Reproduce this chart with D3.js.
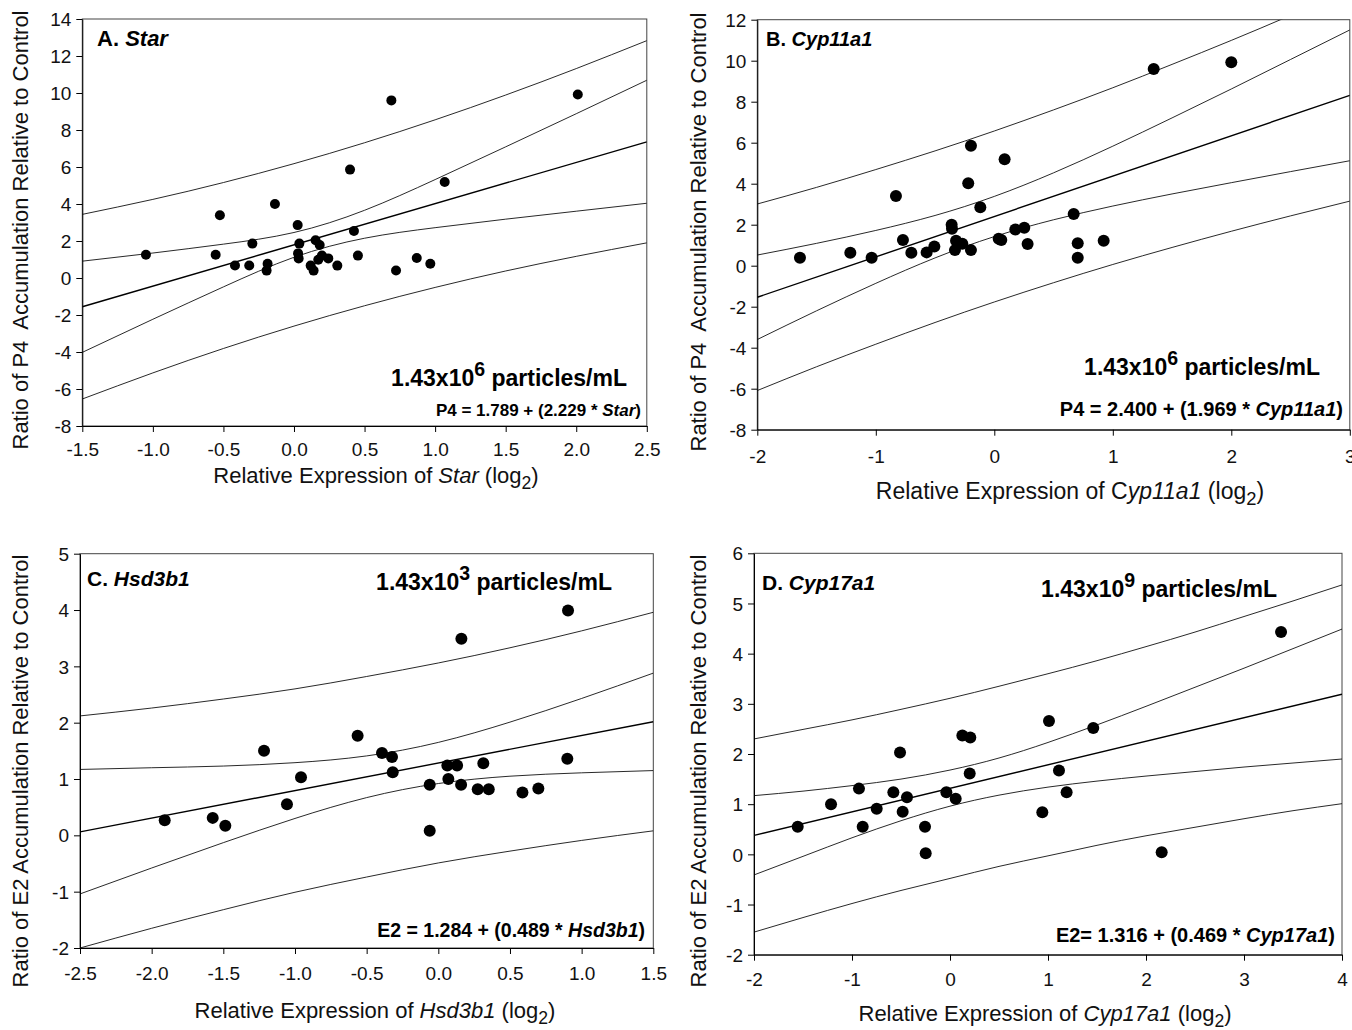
<!DOCTYPE html>
<html>
<head>
<meta charset="utf-8">
<script src="https://cdn.jsdelivr.net/npm/d3@7"></script>
<style>
body { margin: 0; background: #fff; }
svg { display: block; font-family: "Liberation Sans", Arial, sans-serif; }
</style>
</head>
<body>
<svg id="fig" width="1352" height="1030"></svg>
<script>
// ---- A. Star ----
var starX = [-1.049, -0.555, -0.525, -0.418, -0.317, -0.295, -0.187, -0.194, -0.135, 0.026, 0.038, 0.029, 0.033, 0.118, 0.139, 0.153, 0.182, 0.172, 0.198, 0.243, 0.307, 0.397, 0.425, 0.453, 0.690, 0.723, 0.870, 0.966, 1.068, 2.011];
var starY = [1.26, 1.26, 3.39, 0.68, 0.68, 1.86, 0.77, 0.40, 4.00, 2.86, 1.86, 1.33, 1.06, 0.67, 0.40, 2.04, 1.78, 0.99, 1.21, 1.06, 0.67, 5.86, 2.54, 1.21, 9.60, 0.41, 1.08, 0.77, 5.19, 9.92];
var starBandX = [-1.5, -1.0, -0.5, 0, 0.5, 1.0, 1.5, 2.0, 2.5];
var starConfHi = [0.91, 1.35, 1.83, 2.46, 3.66, 5.32, 7.09, 8.88, 10.69];
var starConfLo = [-4.02, -2.23, -0.48, 1.12, 2.15, 2.72, 3.18, 3.61, 4.04];
var starPredHi = [3.44, 4.25, 5.16, 6.18, 7.31, 8.55, 9.89, 11.32, 12.83];
var starPredLo = [-6.54, -5.13, -3.81, -2.60, -1.50, -0.51, 0.38, 1.17, 1.90];
var starFit = [1.789, 2.229];
var starXTicks = [-1.5, -1.0, -0.5, 0, 0.5, 1.0, 1.5, 2.0, 2.5];
var starYTicks = [-8, -6, -4, -2, 0, 2, 4, 6, 8, 10, 12, 14];

// ---- B. Cyp11a1 ----
var cyp11X = [-1.640, -1.215, -1.035, -0.830, -0.771, -0.700, -0.571, -0.506, -0.360, -0.357, -0.323, -0.332, -0.270, -0.220, -0.197, -0.197, -0.118, 0.037, 0.059, 0.087, 0.177, 0.253, 0.281, 0.670, 0.704, 0.704, 0.923, 1.345, 2.000];
var cyp11Y = [0.39, 0.63, 0.39, 3.40, 1.25, 0.63, 0.65, 0.94, 2.00, 1.80, 1.22, 0.76, 1.07, 4.02, 5.85, 0.76, 2.85, 1.32, 1.25, 5.19, 1.77, 1.85, 1.06, 2.52, 1.09, 0.39, 1.22, 9.59, 9.92];
var cyp11BandX = [-2, -1.5, -1, -0.5, 0, 0.5, 1, 1.5, 2, 2.5, 3];
var cyp11ConfHi = [0.52, 1.09, 1.72, 2.45, 3.38, 4.53, 5.83, 7.21, 8.62, 10.06, 11.50];
var cyp11ConfLo = [-3.60, -2.20, -0.86, 0.38, 1.42, 2.24, 2.91, 3.50, 4.05, 4.59, 5.12];
var cyp11PredHi = [3.01, 3.82, 4.69, 5.60, 6.57, 7.60, 8.68, 9.82, 10.99, 12.21, 13.47];
var cyp11PredLo = [-6.09, -4.93, -3.83, -2.77, -1.77, -0.83, 0.06, 0.89, 1.68, 2.43, 3.15];
var cyp11Fit = [2.400, 1.969];
var cyp11XTicks = [-2, -1, 0, 1, 2, 3];
var cyp11YTicks = [-8, -6, -4, -2, 0, 2, 4, 6, 8, 10, 12];

// ---- C. Hsd3b1 ----
var hsdX = [-1.909, -1.574, -1.486, -1.216, -1.056, -0.958, -0.563, -0.393, -0.323, -0.318, -0.060, -0.060, 0.063, 0.131, 0.070, 0.161, 0.159, 0.314, 0.275, 0.352, 0.587, 0.698, 0.905, 0.900];
var hsdY = [0.27, 0.31, 0.17, 1.50, 0.55, 1.03, 1.77, 1.46, 1.39, 1.12, 0.90, 0.08, 1.24, 1.24, 1.00, 3.49, 0.90, 1.28, 0.82, 0.82, 0.76, 0.83, 3.99, 1.36];
var hsdBandX = [-2.5, -2.0, -1.5, -1.0, -0.5, 0, 0.5, 1.0, 1.5];
var hsdConfHi = [1.17, 1.20, 1.23, 1.29, 1.41, 1.65, 2.01, 2.43, 2.88];
var hsdConfLo = [-1.04, -0.58, -0.13, 0.30, 0.67, 0.92, 1.05, 1.11, 1.15];
var hsdPredHi = [2.12, 2.26, 2.42, 2.60, 2.82, 3.06, 3.33, 3.63, 3.96];
var hsdPredLo = [-2.00, -1.65, -1.32, -1.01, -0.74, -0.49, -0.28, -0.09, 0.08];
var hsdFit = [1.284, 0.489];
var hsdXTicks = [-2.5, -2.0, -1.5, -1.0, -0.5, 0, 0.5, 1.0, 1.5];
var hsdYTicks = [-2, -1, 0, 1, 2, 3, 4, 5];

// ---- D. Cyp17a1 ----
var cyp17X = [-1.554, -1.214, -0.929, -0.891, -0.748, -0.578, -0.510, -0.483, -0.439, -0.255, -0.248, -0.037, 0.058, 0.126, 0.207, 0.201, 0.942, 1.010, 1.462, 1.112, 1.190, 2.160, 3.378];
var cyp17Y = [0.55, 1.00, 1.31, 0.55, 0.91, 1.24, 2.03, 0.85, 1.14, 0.55, 0.02, 1.24, 1.11, 2.37, 2.33, 1.61, 0.84, 2.66, 2.52, 1.67, 1.24, 0.04, 4.43];
var cyp17BandX = [-2, -1.5, -1, -0.5, 0, 0.5, 1, 1.5, 2, 2.5, 3, 3.5, 4];
var cyp17ConfHi = [1.17, 1.26, 1.37, 1.50, 1.68, 1.92, 2.23, 2.58, 2.95, 3.33, 3.71, 4.10, 4.49];
var cyp17ConfLo = [-0.41, -0.04, 0.33, 0.67, 0.96, 1.18, 1.34, 1.46, 1.56, 1.65, 1.74, 1.82, 1.90];
var cyp17PredHi = [2.30, 2.49, 2.68, 2.89, 3.11, 3.35, 3.60, 3.86, 4.14, 4.43, 4.74, 5.05, 5.37];
var cyp17PredLo = [-1.55, -1.26, -0.98, -0.72, -0.48, -0.24, -0.03, 0.18, 0.37, 0.54, 0.71, 0.87, 1.01];
var cyp17Fit = [1.316, 0.469];
var cyp17XTicks = [-2, -1, 0, 1, 2, 3, 4];
var cyp17YTicks = [-2, -1, 0, 1, 2, 3, 4, 5, 6];

var panels = [
    {
        id: 'a', box: [82.3, 19, 646.8, 426], xdom: [-1.5, 2.5], ydom: [-8, 14],
        xs: starX, ys: starY, bx: starBandX, bands: [starConfHi, starConfLo, starPredHi, starPredLo],
        fit: starFit, xt: starXTicks, yt: starYTicks, xfmt: '.1f', r: 5,
        label: [['A. '], ['Star', 'i']], labelPos: [97, 46, 22],
        dose: '6', dosePos: [627, 386, 23],
        eq: [['P4 = 1.789 + (2.229 * '], ['Star', 'i'], [')']], eqPos: [641, 416, 17],
        xtitle: [['Relative Expression of '], ['Star', 'i'], [' (log'], ['2', 'sub'], [')']],
        xtitlePos: [376, 483, 22], xtickY: 456,
        ytitle: 'Ratio of P4  Accumulation Relative to Control', ytitlePos: [28, 230]
    },
    {
        id: 'b', box: [757.3, 19.7, 1349.8, 429.7], xdom: [-2, 3], ydom: [-8, 12],
        xs: cyp11X, ys: cyp11Y, bx: cyp11BandX, bands: [cyp11ConfHi, cyp11ConfLo, cyp11PredHi, cyp11PredLo],
        fit: cyp11Fit, xt: cyp11XTicks, yt: cyp11YTicks, xfmt: 'd', r: 6,
        label: [['B. '], ['Cyp11a1', 'i']], labelPos: [766, 46, 20],
        dose: '6', dosePos: [1320, 375, 23],
        eq: [['P4 = 2.400 + (1.969 * '], ['Cyp11a1', 'i'], [')']], eqPos: [1343, 416, 20],
        xtitle: [['Relative Expression of C'], ['yp11a1', 'i'], [' (log'], ['2', 'sub'], [')']],
        xtitlePos: [1070, 499, 23], xtickY: 463,
        ytitle: 'Ratio of P4  Accumulation Relative to Control', ytitlePos: [706, 232]
    },
    {
        id: 'c', box: [80, 553.7, 653.3, 948], xdom: [-2.5, 1.5], ydom: [-2, 5],
        xs: hsdX, ys: hsdY, bx: hsdBandX, bands: [hsdConfHi, hsdConfLo, hsdPredHi, hsdPredLo],
        fit: hsdFit, xt: hsdXTicks, yt: hsdYTicks, xfmt: '.1f', r: 6,
        label: [['C. '], ['Hsd3b1', 'i']], labelPos: [87, 586, 21],
        dose: '3', dosePos: [612, 590, 23],
        eq: [['E2 = 1.284 + (0.489 * '], ['Hsd3b1', 'i'], [')']], eqPos: [645, 937, 19.5],
        xtitle: [['Relative Expression of '], ['Hsd3b1', 'i'], [' (log'], ['2', 'sub'], [')']],
        xtitlePos: [375, 1018, 22], xtickY: 980,
        ytitle: 'Ratio of E2 Accumulation Relative to Control', ytitlePos: [28, 771]
    },
    {
        id: 'd', box: [754, 553.3, 1342, 954.7], xdom: [-2, 4], ydom: [-2, 6],
        xs: cyp17X, ys: cyp17Y, bx: cyp17BandX, bands: [cyp17ConfHi, cyp17ConfLo, cyp17PredHi, cyp17PredLo],
        fit: cyp17Fit, xt: cyp17XTicks, yt: cyp17YTicks, xfmt: 'd', r: 6,
        label: [['D. '], ['Cyp17a1', 'i']], labelPos: [762, 590, 21],
        dose: '9', dosePos: [1277, 597, 23],
        eq: [['E2= 1.316 + (0.469 * '], ['Cyp17a1', 'i'], [')']], eqPos: [1335, 942, 20],
        xtitle: [['Relative Expression of '], ['Cyp17a1', 'i'], [' (log'], ['2', 'sub'], [')']],
        xtitlePos: [1045, 1021, 22], xtickY: 986,
        ytitle: 'Ratio of E2 Accumulation Relative to Control', ytitlePos: [706, 771]
    }
];

var svg = d3.select('#fig');

// plain hyphen for negatives, as in the original figure
var locale = d3.formatLocale({ decimal: '.', thousands: ',', grouping: [3], currency: ['', ''], minus: '-' });

// mixed style text: parts are [text, style] with style 'i', 'sup' or 'sub'
function rich(sel, parts, size) {
    var shift = 0;
    parts.forEach(function (p) {
        var st = p[1] || '';
        var ts = sel.append('tspan').text(p[0]);
        if (st === 'i') ts.attr('font-style', 'italic');
        var target = 0;
        if (st === 'sup') target = -0.45 * size;
        if (st === 'sub') target = 0.28 * size;
        if (target !== shift) { ts.attr('dy', target - shift); shift = target; }
        if (st === 'sup') ts.attr('font-size', size * 0.85);
        if (st === 'sub') ts.attr('font-size', size * 0.8);
    });
}

panels.forEach(function (p) {
    var x = d3.scaleLinear().domain(p.xdom).range([p.box[0], p.box[2]]);
    var y = d3.scaleLinear().domain(p.ydom).range([p.box[3], p.box[1]]);
    var g = svg.append('g').attr('class', 'panel-' + p.id);

    g.append('clipPath').attr('id', 'clip-' + p.id)
        .append('rect')
        .attr('x', p.box[0]).attr('y', p.box[1])
        .attr('width', p.box[2] - p.box[0]).attr('height', p.box[3] - p.box[1]);

    // frame
    g.append('rect')
        .attr('x', p.box[0]).attr('y', p.box[1])
        .attr('width', p.box[2] - p.box[0]).attr('height', p.box[3] - p.box[1])
        .attr('fill', 'none').attr('stroke', '#444').attr('stroke-width', 1);

    var lines = g.append('g').attr('clip-path', 'url(#clip-' + p.id + ')');

    var band = d3.line()
        .x(function (d, i) { return x(p.bx[i]); })
        .y(function (d) { return y(d); })
        .curve(d3.curveNatural);

    p.bands.forEach(function (b) {
        lines.append('path')
            .attr('d', band(b))
            .attr('fill', 'none').attr('stroke', '#111').attr('stroke-width', 0.9);
    });

    var fitLine = d3.line()
        .x(function (d) { return x(d); })
        .y(function (d) { return y(p.fit[0] + p.fit[1] * d); });

    lines.append('path')
        .attr('d', fitLine(p.xdom))
        .attr('fill', 'none').attr('stroke', '#000').attr('stroke-width', 1.4);

    g.append('g').selectAll('circle')
        .data(p.xs)
        .join('circle')
        .attr('cx', function (d) { return x(d); })
        .attr('cy', function (d, i) { return y(p.ys[i]); })
        .attr('r', p.r)
        .attr('fill', '#000');

    // axes
    var xAxis = d3.axisBottom(x).tickValues(p.xt).tickSize(6).tickSizeOuter(0)
        .tickFormat(locale.format(p.xfmt));
    var yAxis = d3.axisLeft(y).tickValues(p.yt).tickSize(6).tickSizeOuter(0)
        .tickFormat(locale.format('d'));

    var gx = g.append('g').attr('transform', 'translate(0,' + p.box[3] + ')').call(xAxis);
    var gy = g.append('g').attr('transform', 'translate(' + p.box[0] + ',0)').call(yAxis);

    [gx, gy].forEach(function (ax) {
        ax.select('.domain').attr('stroke', '#000');
        ax.selectAll('.tick line').attr('stroke', '#000');
        ax.selectAll('.tick text')
            .attr('fill', '#111')
            .attr('font-size', 19)
            .attr('font-family', '"Liberation Sans", Arial, sans-serif');
    });
    gx.selectAll('.tick text').attr('dy', null).attr('y', p.xtickY - p.box[3]);
    gy.selectAll('.tick text').attr('x', -11).attr('dy', '0.35em');

    // titles
    rich(g.append('text')
        .attr('x', p.xtitlePos[0])
        .attr('y', p.xtitlePos[1])
        .attr('text-anchor', 'middle')
        .attr('font-size', p.xtitlePos[2])
        .attr('fill', '#111'), p.xtitle, p.xtitlePos[2]);

    g.append('text')
        .attr('transform', 'translate(' + p.ytitlePos[0] + ',' + p.ytitlePos[1] + ') rotate(-90)')
        .attr('text-anchor', 'middle')
        .attr('font-size', 22)
        .attr('fill', '#111')
        .style('white-space', 'pre')
        .text(p.ytitle);

    // annotations
    rich(g.append('text')
        .attr('x', p.labelPos[0]).attr('y', p.labelPos[1])
        .attr('font-size', p.labelPos[2]).attr('font-weight', 'bold'), p.label, p.labelPos[2]);

    rich(g.append('text')
        .attr('x', p.dosePos[0]).attr('y', p.dosePos[1])
        .attr('text-anchor', 'end')
        .attr('font-size', p.dosePos[2]).attr('font-weight', 'bold'),
        [['1.43x10'], [p.dose, 'sup'], [' particles/mL']], p.dosePos[2]);

    rich(g.append('text')
        .attr('x', p.eqPos[0]).attr('y', p.eqPos[1])
        .attr('text-anchor', 'end')
        .attr('font-size', p.eqPos[2]).attr('font-weight', 'bold'), p.eq, p.eqPos[2]);
});
</script>
</body>
</html>
